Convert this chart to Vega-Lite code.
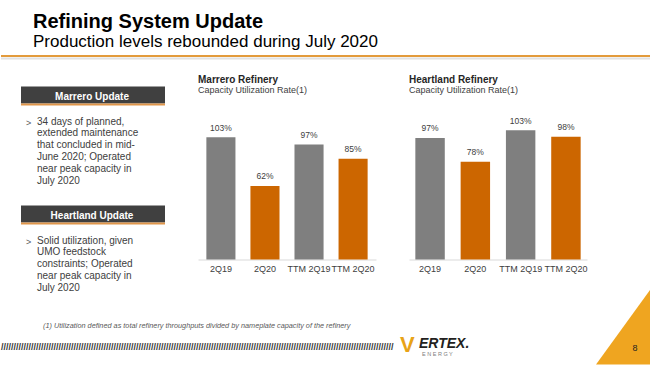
{
  "$schema": "https://vega.github.io/schema/vega-lite/v6.json",
  "padding": 0,
  "background": "white",
  "spacing": 14.5,
  "config": {
    "view": {"stroke": null},
    "font": "Liberation Sans",
    "text": {"font": "Liberation Sans"},
    "title": {"font": "Liberation Sans", "subtitleFont": "Liberation Sans"}
  },
  "datasets": {
    "marrero": [
      {"period": "2Q19", "util": 1.03, "year": "2019"},
      {"period": "2Q20", "util": 0.62, "year": "2020"},
      {"period": "TTM 2Q19", "util": 0.97, "year": "2019"},
      {"period": "TTM 2Q20", "util": 0.85, "year": "2020"}
    ],
    "heartland": [
      {"period": "2Q19", "util": 0.97, "year": "2019"},
      {"period": "2Q20", "util": 0.78, "year": "2020"},
      {"period": "TTM 2Q19", "util": 1.03, "year": "2019"},
      {"period": "TTM 2Q20", "util": 0.98, "year": "2020"}
    ],
    "updates": [
      {"header": "Marrero Update", "body": ["34 days of planned,", "extended maintenance", "that concluded in mid-", "June 2020; Operated", "near peak capacity in", "July 2020"]},
      {"header": "Heartland Update", "body": ["Solid utilization, given", "UMO feedstock", "constraints; Operated", "near peak capacity in", "July 2020"]}
    ]
  },
  "vconcat": [
    {
      "width": 650,
      "height": 56,
      "data": {"values": [{}]},
      "title": {
        "text": "Refining System Update",
        "subtitle": "Production levels rebounded during July 2020",
        "anchor": "start",
        "frame": "group",
        "orient": "top",
        "offset": -49.5,
        "dx": 32,
        "fontSize": 20,
        "fontWeight": "bold",
        "color": "#000000",
        "subtitleFontSize": 17,
        "subtitleColor": "#000000",
        "subtitlePadding": 2
      },
      "layer": [
        {
          "mark": {"type": "rule", "color": "#E2E2E2", "strokeWidth": 2, "yOffset": 2.5},
          "encoding": {"y": {"datum": 0, "type": "quantitative", "scale": {"domain": [0, 1]}, "axis": null}}
        },
        {
          "mark": {"type": "rule", "color": "#E39B3C", "strokeWidth": 2},
          "encoding": {"y": {"datum": 0, "type": "quantitative", "scale": {"domain": [0, 1]}, "axis": null}}
        }
      ]
    },
    {
      "bounds": "flush",
      "spacing": 33,
      "hconcat": [
        {
          "width": 164,
          "height": 119,
          "layer": [
            {
              "data": {"name": "updates"},
              "mark": {"type": "rule", "color": "#404040", "strokeWidth": 17, "strokeCap": "butt", "yOffset": -0.5, "xOffset": 20, "x2Offset": 0},
              "encoding": {
                "x": {"datum": 0, "type": "quantitative", "scale": {"domain": [0, 1]}, "axis": null},
                "x2": {"datum": 1},
                "y": {"field": "header", "type": "nominal", "sort": null, "scale": {"type": "point", "padding": 0}, "axis": null}
              }
            },
            {
              "data": {"name": "updates"},
              "mark": {"type": "rule", "color": "#E0964A", "strokeWidth": 2, "strokeCap": "butt", "yOffset": 9, "xOffset": 20, "x2Offset": 0},
              "encoding": {
                "x": {"datum": 0, "type": "quantitative", "scale": {"domain": [0, 1]}, "axis": null},
                "x2": {"datum": 1},
                "y": {"field": "header", "type": "nominal", "sort": null, "scale": {"type": "point", "padding": 0}, "axis": null}
              }
            },
            {
              "data": {"name": "updates"},
              "mark": {"type": "text", "color": "#FFFFFF", "fontSize": 10, "fontWeight": "bold", "align": "center", "baseline": "middle", "dx": 9, "dy": 1},
              "encoding": {
                "y": {"field": "header", "type": "nominal", "sort": null, "scale": {"type": "point", "padding": 0}, "axis": null},
                "text": {"field": "header"}
              }
            },
            {
              "data": {"name": "updates"},
              "mark": {"type": "text", "color": "#595959", "fontSize": 9, "align": "left", "baseline": "middle", "dx": -57, "dy": 27},
              "encoding": {
                "y": {"field": "header", "type": "nominal", "sort": null, "scale": {"type": "point", "padding": 0}, "axis": null},
                "text": {"value": ">"}
              }
            },
            {
              "data": {"name": "updates"},
              "mark": {"type": "text", "color": "#404040", "fontSize": 10, "align": "left", "baseline": "top", "dx": -46, "dy": 21, "lineHeight": 11.9},
              "encoding": {
                "y": {"field": "header", "type": "nominal", "sort": null, "scale": {"type": "point", "padding": 0}, "axis": null},
                "text": {"field": "body"}
              }
            },
            {
              "data": {"values": [{}]},
              "mark": {"type": "point", "shape": "M-0.447,1L1,-1L1,1Z", "size": 5776, "filled": true, "color": "#EFA520", "opacity": 1, "strokeWidth": 0, "xOffset": 530, "yOffset": 171.5},
              "encoding": {}
            },
            {
              "data": {"values": [{}]},
              "mark": {"type": "text", "fontSize": 7.3, "fontStyle": "italic", "color": "#595959", "align": "left", "baseline": "middle", "dx": -40, "dy": 170.5},
              "encoding": {"text": {"value": "(1)  Utilization defined as total refinery throughputs divided by nameplate capacity of the refinery"}}
            },
            {
              "data": {"values": [{}]},
              "mark": {"type": "text", "fontSize": 9, "fontWeight": "bold", "color": "#333333", "align": "left", "baseline": "middle", "dx": -82, "dy": 191.5, "limit": 395, "ellipsis": "/"},
              "encoding": {"text": {"value": "////////////////////////////////////////////////////////////////////////////////////////////////////////////////////////////////////////////////////////////////////////////////////////"}}
            },
            {
              "data": {"values": [{}]},
              "mark": {"type": "text", "fontSize": 22, "fontWeight": "bold", "color": "#E8A317", "align": "left", "baseline": "alphabetic", "dx": 317, "dy": 196.5},
              "encoding": {"text": {"value": "V"}}
            },
            {
              "data": {"values": [{}]},
              "mark": {"type": "text", "fontSize": 14, "fontWeight": "bold", "fontStyle": "italic", "color": "#231F20", "align": "left", "baseline": "alphabetic", "dx": 336, "dy": 192.5},
              "encoding": {"text": {"value": "ERTEX."}}
            },
            {
              "data": {"values": [{}]},
              "mark": {"type": "text", "fontSize": 5.5, "color": "#808080", "align": "left", "baseline": "alphabetic", "dx": 339, "dy": 200.5},
              "encoding": {"text": {"value": "E N E R G Y"}}
            },
            {
              "data": {"values": [{}]},
              "mark": {"type": "text", "fontSize": 9, "color": "#231F20", "align": "center", "baseline": "middle", "dx": 552, "dy": 192.5},
              "encoding": {"text": {"value": "8"}}
            }
          ]
        },
        {
          "width": 178,
          "height": 164,
          "data": {"name": "marrero"},
          "title": {
            "text": "Marrero Refinery",
            "subtitle": "Capacity Utilization Rate(1)",
            "anchor": "start",
            "frame": "group",
            "offset": 1,
            "fontSize": 10,
            "fontWeight": "bold",
            "color": "#262626",
            "subtitleFontSize": 9,
            "subtitleColor": "#404040",
            "subtitlePadding": 1
          },
          "encoding": {
            "x": {
              "field": "period", "type": "nominal", "sort": null,
              "scale": {"paddingInner": 0.34, "paddingOuter": 0.19},
              "axis": {"title": null, "labelAngle": 0, "ticks": false, "domainColor": "#D9D9D9", "domainWidth": 1, "labelFontSize": 9, "labelColor": "#404040", "labelPadding": 5, "labelFont": "Liberation Sans"}
            },
            "y": {"field": "util", "type": "quantitative", "scale": {"domain": [0, 1.382]}, "axis": null}
          },
          "layer": [
            {
              "mark": {"type": "bar"},
              "encoding": {
                "color": {"field": "year", "type": "nominal", "scale": {"domain": ["2019", "2020"], "range": ["#7F7F7F", "#CC6600"]}, "legend": null}
              }
            },
            {
              "mark": {"type": "text", "baseline": "bottom", "dy": -4.5, "fontSize": 8.5, "color": "#404040"},
              "encoding": {"text": {"field": "util", "type": "quantitative", "format": ".0%"}}
            }
          ]
        },
        {
          "width": 178,
          "height": 164,
          "data": {"name": "heartland"},
          "title": {
            "text": "Heartland Refinery",
            "subtitle": "Capacity Utilization Rate(1)",
            "anchor": "start",
            "frame": "group",
            "offset": 1,
            "fontSize": 10,
            "fontWeight": "bold",
            "color": "#262626",
            "subtitleFontSize": 9,
            "subtitleColor": "#404040",
            "subtitlePadding": 1
          },
          "encoding": {
            "x": {
              "field": "period", "type": "nominal", "sort": null,
              "scale": {"paddingInner": 0.35, "paddingOuter": 0.14},
              "axis": {"title": null, "labelAngle": 0, "ticks": false, "domainColor": "#D9D9D9", "domainWidth": 1, "labelFontSize": 9, "labelColor": "#404040", "labelPadding": 5, "labelFont": "Liberation Sans"}
            },
            "y": {"field": "util", "type": "quantitative", "scale": {"domain": [0, 1.308]}, "axis": null}
          },
          "layer": [
            {
              "mark": {"type": "bar"},
              "encoding": {
                "color": {"field": "year", "type": "nominal", "scale": {"domain": ["2019", "2020"], "range": ["#7F7F7F", "#CC6600"]}, "legend": null}
              }
            },
            {
              "mark": {"type": "text", "baseline": "bottom", "dy": -4.5, "fontSize": 8.5, "color": "#404040"},
              "encoding": {"text": {"field": "util", "type": "quantitative", "format": ".0%"}}
            }
          ]
        }
      ]
    }
  ]
}
